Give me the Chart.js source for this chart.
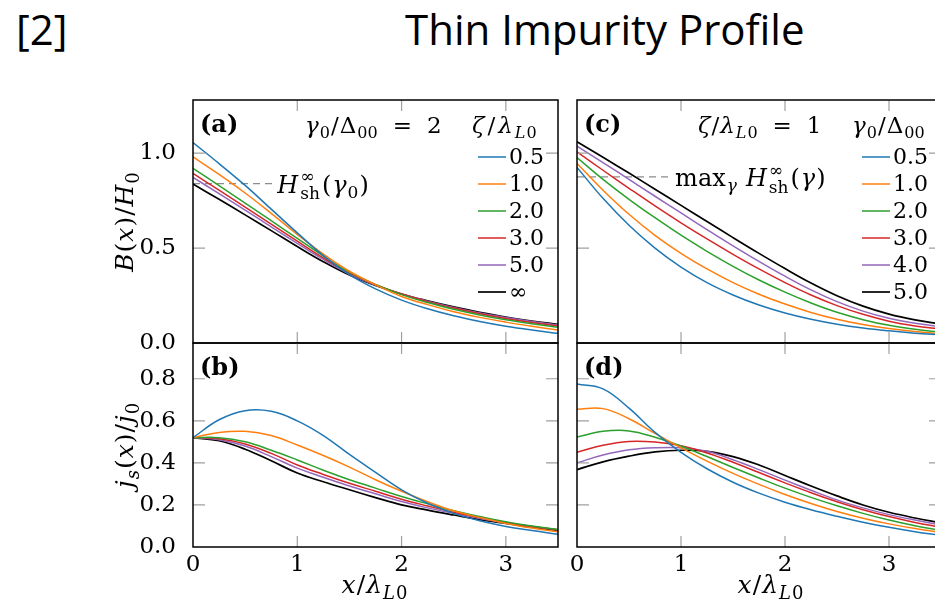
<!DOCTYPE html>
<html>
<head>
<meta charset="utf-8">
<script src="https://cdn.jsdelivr.net/npm/chart.js@4.4.1/dist/chart.umd.min.js"></script>
<style>
html, body { margin: 0; padding: 0; background: #fff; }
#page { position: relative; width: 935px; height: 609px; overflow: hidden; background: #fff; }
#page canvas { position: absolute; left: 0; top: 0; }
.slide { position: absolute; font-family: "Open Sans", sans-serif; font-size: 42px; line-height: 1; color: #000; white-space: nowrap; }
</style>
</head>
<body>
<div id="page">
  <div class="slide" style="left:16px; top:8px">[2]</div>
  <div class="slide" style="left:405px; top:8px">Thin Impurity Profile</div>
  <canvas id="chartA" width="950" height="609"></canvas>
  <canvas id="chartB" width="950" height="609"></canvas>
  <canvas id="chartC" width="950" height="609"></canvas>
  <canvas id="chartD" width="950" height="609"></canvas>
</div>
<script>
// x / lambda_L0 sample points
var xs = [0, 0.25, 0.5, 0.75, 1, 1.25, 1.5, 1.75, 2, 2.25, 2.5, 2.75, 3, 3.25, 3.5];

var zetaLabels = ['0.5', '1.0', '2.0', '3.0', '5.0', '∞'];
var gammaLabels = ['0.5', '1.0', '2.0', '3.0', '4.0', '5.0'];
var colors = ['#1f77b4', '#ff7f0e', '#2ca02c', '#d62728', '#9467bd', '#000000'];

// (a) B(x)/H0, gamma0/Delta00 = 2, one row per zeta
var fieldZeta = [
  [1.056, 0.945, 0.83, 0.705, 0.58, 0.46, 0.36, 0.285, 0.226, 0.18, 0.143, 0.113, 0.088, 0.068, 0.051],
  [0.98, 0.888, 0.79, 0.683, 0.572, 0.468, 0.378, 0.307, 0.245, 0.202, 0.165, 0.135, 0.11, 0.088, 0.068],
  [0.92, 0.829, 0.737, 0.644, 0.551, 0.458, 0.373, 0.308, 0.255, 0.213, 0.178, 0.148, 0.122, 0.101, 0.083],
  [0.893, 0.805, 0.716, 0.626, 0.536, 0.448, 0.368, 0.307, 0.258, 0.218, 0.184, 0.154, 0.129, 0.108, 0.09],
  [0.872, 0.787, 0.70, 0.612, 0.525, 0.44, 0.363, 0.305, 0.258, 0.22, 0.187, 0.158, 0.134, 0.113, 0.095],
  [0.837, 0.757, 0.675, 0.592, 0.508, 0.428, 0.358, 0.303, 0.258, 0.222, 0.19, 0.162, 0.137, 0.116, 0.098]
];
// (b) js(x)/j0
var currentZeta = [
  [0.52, 0.605, 0.648, 0.645, 0.60, 0.53, 0.44, 0.355, 0.272, 0.208, 0.16, 0.125, 0.098, 0.078, 0.06],
  [0.52, 0.545, 0.55, 0.53, 0.485, 0.435, 0.38, 0.32, 0.265, 0.215, 0.172, 0.14, 0.112, 0.09, 0.072],
  [0.52, 0.52, 0.50, 0.46, 0.414, 0.365, 0.32, 0.28, 0.24, 0.205, 0.172, 0.145, 0.12, 0.10, 0.083],
  [0.52, 0.515, 0.49, 0.445, 0.39, 0.345, 0.303, 0.265, 0.227, 0.195, 0.165, 0.14, 0.117, 0.098, 0.082],
  [0.52, 0.51, 0.48, 0.43, 0.375, 0.332, 0.29, 0.253, 0.216, 0.186, 0.16, 0.136, 0.115, 0.097, 0.082],
  [0.52, 0.505, 0.465, 0.41, 0.352, 0.31, 0.272, 0.235, 0.20, 0.175, 0.152, 0.13, 0.112, 0.095, 0.08]
];
// (c) B(x)/H0, zeta/lambda_L0 = 1, one row per gamma0
var fieldGamma = [
  [0.925, 0.762, 0.62, 0.50, 0.40, 0.318, 0.253, 0.20, 0.158, 0.125, 0.099, 0.079, 0.064, 0.052, 0.043],
  [0.946, 0.805, 0.678, 0.567, 0.472, 0.39, 0.318, 0.257, 0.205, 0.161, 0.125, 0.097, 0.076, 0.06, 0.048],
  [0.977, 0.862, 0.757, 0.66, 0.568, 0.483, 0.404, 0.332, 0.268, 0.211, 0.162, 0.123, 0.093, 0.072, 0.057],
  [1.007, 0.91, 0.815, 0.722, 0.633, 0.548, 0.467, 0.39, 0.318, 0.253, 0.197, 0.151, 0.115, 0.09, 0.073],
  [1.037, 0.95, 0.862, 0.773, 0.685, 0.597, 0.512, 0.43, 0.352, 0.28, 0.218, 0.168, 0.13, 0.104, 0.086],
  [1.06, 0.978, 0.895, 0.81, 0.725, 0.64, 0.555, 0.472, 0.392, 0.316, 0.249, 0.194, 0.152, 0.122, 0.10]
];
// (d) js(x)/j0
var currentGamma = [
  [0.775, 0.752, 0.66, 0.545, 0.45, 0.372, 0.308, 0.256, 0.213, 0.177, 0.146, 0.118, 0.094, 0.073, 0.055],
  [0.655, 0.658, 0.61, 0.54, 0.472, 0.408, 0.35, 0.298, 0.25, 0.207, 0.169, 0.137, 0.11, 0.088, 0.07],
  [0.523, 0.55, 0.552, 0.522, 0.48, 0.43, 0.378, 0.328, 0.28, 0.236, 0.196, 0.16, 0.128, 0.101, 0.078],
  [0.45, 0.484, 0.502, 0.499, 0.481, 0.447, 0.403, 0.354, 0.305, 0.258, 0.215, 0.177, 0.145, 0.117, 0.094],
  [0.40, 0.437, 0.462, 0.472, 0.472, 0.455, 0.415, 0.368, 0.318, 0.27, 0.224, 0.186, 0.154, 0.128, 0.105],
  [0.368, 0.405, 0.432, 0.452, 0.46, 0.455, 0.43, 0.39, 0.34, 0.29, 0.243, 0.20, 0.165, 0.138, 0.115]
];

// dashed reference levels
var hShA = 0.84, hShEndA = 0.77;
var hShMaxC = 0.875, hShEndC = 0.905;

var xTicks = [1, 2, 3];
var fieldTicks = [0.5, 1.0];
var currentTicks = [0.2, 0.4, 0.6, 0.8];

var SERIF = '"DejaVu Serif", serif';

function fontStr(st, size) {
  return (st === 'i' ? 'italic ' : st === 'b' ? 'bold ' : '') + size + 'px ' + SERIF;
}

// tiny math-ish text layout: [text, style, level] parts, gaps and stacked sup/sub
function layoutMath(ctx, parts, size) {
  var x = 0, items = [];
  parts.forEach(function(p) {
    if (p.gap !== undefined) { x += p.gap; return; }
    if (p.sup !== undefined) {
      var f = fontStr('r', Math.round(size * 0.7));
      ctx.font = f;
      var w1 = ctx.measureText(p.sup).width, w2 = ctx.measureText(p.sub).width;
      items.push({ t: p.sup, f: f, x: x + 1, dy: -size * 0.42 });
      items.push({ t: p.sub, f: f, x: x + 1, dy: size * 0.28 });
      x += Math.max(w1, w2) + 3;
      return;
    }
    var lv = p[2] || 0;
    var f2 = fontStr(p[1], lv ? Math.round(size * 0.7) : size);
    ctx.font = f2;
    items.push({ t: p[0], f: f2, x: x, dy: lv === -1 ? size * 0.22 : lv === 1 ? -size * 0.42 : 0 });
    x += ctx.measureText(p[0]).width + 1;
  });
  return { items: items, width: x };
}

function drawMath(ctx, parts, x, y, size, align) {
  var m = layoutMath(ctx, parts, size);
  var x0 = align === 'center' ? x - m.width / 2 : align === 'right' ? x - m.width : x;
  ctx.textAlign = 'left';
  ctx.textBaseline = 'alphabetic';
  ctx.fillStyle = '#000';
  m.items.forEach(function(it) {
    ctx.font = it.f;
    ctx.fillText(it.t, x0 + it.x, y + it.dy);
  });
}

var xTitle = [['x', 'i'], ['/', 'r'], ['λ', 'i'], ['L', 'i', -1], ['0', 'r', -1]];
var fieldTitle = [['B', 'i'], ['(', 'r'], ['x', 'i'], [')', 'r'], ['/', 'r'], ['H', 'i'], ['0', 'r', -1]];
var currentTitle = [['j', 'i'], ['s', 'i', -1], ['(', 'r'], ['x', 'i'], [')', 'r'], ['/', 'r'], ['j', 'i'], ['0', 'r', -1]];
var zetaTitle = [['ζ', 'i'], { gap: 2 }, ['/', 'r'], { gap: 2 }, ['λ', 'i'], { gap: 1 }, ['L', 'i', -1], ['0', 'r', -1]];
var gammaTitle = [['γ', 'i'], ['0', 'r', -1], ['/', 'r'], ['Δ', 'r'], ['00', 'r', -1]];
var headerA = [['γ', 'i'], ['0', 'r', -1], ['/', 'r'], ['Δ', 'r'], ['00', 'r', -1], { gap: 14 }, ['=', 'r'], { gap: 14 }, ['2', 'r']];
var headerC = [['ζ', 'i'], ['/', 'r'], ['λ', 'i'], ['L', 'i', -1], ['0', 'r', -1], { gap: 14 }, ['=', 'r'], { gap: 14 }, ['1', 'r']];
var annotA = [['H', 'i'], { sup: '∞', sub: 'sh' }, ['(', 'r'], ['γ', 'i'], ['0', 'r', -1], [')', 'r']];
var annotC = [['max', 'r'], ['γ', 'i', -1], { gap: 8 }, ['H', 'i'], { sup: '∞', sub: 'sh' }, ['(', 'r'], ['γ', 'i'], [')', 'r']];

function decor(cfg) {
  return {
    id: 'decor',
    afterDraw: function(chart) {
      var ctx = chart.ctx, a = chart.chartArea, sx = chart.scales.x, sy = chart.scales.y;
      ctx.save();
      // inward ticks on all four sides
      ctx.strokeStyle = '#a0a0a0';
      ctx.lineWidth = 1.2;
      ctx.beginPath();
      cfg.yTicks.forEach(function(v) {
        var py = sy.getPixelForValue(v);
        ctx.moveTo(a.left, py); ctx.lineTo(a.left + 12, py);
        ctx.moveTo(a.right, py); ctx.lineTo(a.right - 12, py);
      });
      xTicks.forEach(function(v) {
        var px = sx.getPixelForValue(v);
        ctx.moveTo(px, a.top); ctx.lineTo(px, a.top + 11);
        ctx.moveTo(px, a.bottom); ctx.lineTo(px, a.bottom - 11);
      });
      ctx.stroke();
      ctx.strokeStyle = '#000';
      ctx.lineWidth = 1.5;
      ctx.strokeRect(a.left, a.top, a.right - a.left, a.bottom - a.top);

      drawMath(ctx, [[cfg.tag, 'b']], a.left + 7, a.top + 32, 24, 'left');
      (cfg.texts || []).forEach(function(t) {
        drawMath(ctx, t.parts, t.x, t.y, 23, 'left');
      });

      if (cfg.annot) {
        var ax = sx.getPixelForValue(cfg.annot.end) + 4;
        var ay = sy.getPixelForValue(cfg.annot.level) + 9;
        drawMath(ctx, cfg.annot.parts, ax, ay, 24, 'left');
      }

      if (cfg.legend) {
        var L = cfg.legend;
        drawMath(ctx, L.title, L.titleX, a.top + 33, 23, 'left');
        chart.data.datasets.slice(0, 6).forEach(function(ds, i) {
          var y = L.y0 + i * 27;
          ctx.strokeStyle = ds.borderColor;
          ctx.lineWidth = ds.borderWidth;
          ctx.beginPath();
          ctx.moveTo(L.x0, y); ctx.lineTo(L.x0 + 28, y);
          ctx.stroke();
          drawMath(ctx, [[ds.label, 'r']], L.x0 + 31, y + 7, 22, 'left');
        });
      }

      if (cfg.yTitle) {
        ctx.save();
        ctx.translate(133, (a.top + a.bottom) / 2);
        ctx.rotate(-Math.PI / 2);
        drawMath(ctx, cfg.yTitle, 0, 0, 25, 'center');
        ctx.restore();
      }
      if (cfg.xTitle) {
        drawMath(ctx, xTitle, cfg.xTitleX, 593, 25, 'center');
      }
      ctx.restore();
    }
  };
}

function makeChart(id, rows, labels, cfg) {
  var datasets = rows.map(function(r, i) {
    return {
      label: labels[i],
      data: r.map(function(v, k) { return { x: xs[k], y: v }; }),
      borderColor: colors[i],
      borderWidth: i === 5 ? 1.7 : 1.5,
      pointRadius: 0,
      tension: 0.4,
      fill: false
    };
  });
  if (cfg.annot) {
    datasets.push({
      label: 'annot',
      data: [{ x: 0, y: cfg.annot.level }, { x: cfg.annot.end, y: cfg.annot.level }],
      borderColor: '#8c8c8c',
      borderWidth: 1.2,
      borderDash: [7, 5],
      pointRadius: 0,
      fill: false
    });
  }
  return new Chart(document.getElementById(id).getContext('2d'), {
    type: 'line',
    data: { datasets: datasets },
    options: {
      responsive: false,
      devicePixelRatio: 1,
      animation: false,
      events: [],
      layout: { padding: { left: 0, top: cfg.top, right: 950 - cfg.right, bottom: 0 } },
      plugins: { legend: { display: false }, tooltip: { enabled: false } },
      scales: {
        x: {
          type: 'linear', min: 0, max: 3.5,
          afterFit: function(s) { s.height = 609 - cfg.bottom; },
          grid: { display: false }, border: { display: false },
          ticks: {
            display: cfg.showX, stepSize: 1, includeBounds: false, padding: -4, maxRotation: 0,
            color: '#000', font: { family: SERIF, size: 23 },
            callback: function(v) { return String(v); }
          }
        },
        y: {
          type: 'linear', min: 0, max: cfg.yMax,
          afterFit: function(s) { s.width = cfg.left; },
          grid: { display: false }, border: { display: false },
          ticks: {
            display: cfg.showY, stepSize: cfg.step, includeBounds: false, padding: 9,
            color: '#000', font: { family: SERIF, size: 23 },
            callback: function(v) { return v.toFixed(1); }
          }
        }
      }
    },
    plugins: [decor(cfg)]
  });
}

makeChart('chartA', fieldZeta, zetaLabels, {
  left: 193, right: 558, top: 100, bottom: 343, yMax: 1.28, step: 0.5,
  showX: false, showY: true, yTicks: fieldTicks, tag: '(a)',
  texts: [{ parts: headerA, x: 305, y: 133 }],
  legend: { title: zetaTitle, titleX: 472, x0: 478, y0: 157 },
  annot: { parts: annotA, level: hShA, end: hShEndA },
  yTitle: fieldTitle
});
makeChart('chartB', currentZeta, zetaLabels, {
  left: 193, right: 558, top: 343, bottom: 547, yMax: 0.97, step: 0.2,
  showX: true, showY: true, yTicks: currentTicks, tag: '(b)',
  yTitle: currentTitle, xTitle: true, xTitleX: 375
});
makeChart('chartC', fieldGamma, gammaLabels, {
  left: 577, right: 941, top: 100, bottom: 343, yMax: 1.28, step: 0.5,
  showX: false, showY: false, yTicks: fieldTicks, tag: '(c)',
  texts: [{ parts: headerC, x: 698, y: 133 }],
  legend: { title: gammaTitle, titleX: 852, x0: 862, y0: 157 },
  annot: { parts: annotC, level: hShMaxC, end: hShEndC }
});
makeChart('chartD', currentGamma, gammaLabels, {
  left: 577, right: 941, top: 343, bottom: 547, yMax: 0.97, step: 0.2,
  showX: true, showY: false, yTicks: currentTicks, tag: '(d)',
  xTitle: true, xTitleX: 771
});
</script>
</body>
</html>
